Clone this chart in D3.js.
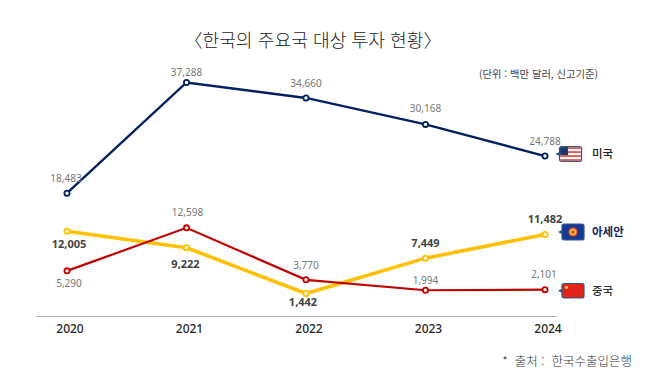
<!DOCTYPE html>
<html lang="ko">
<head>
<meta charset="utf-8">
<script src="https://cdn.jsdelivr.net/npm/d3@7"></script>
<style>
    html, body { margin: 0; padding: 0; background: #fff; }
    svg { display: block; }
    .value { font-family: "Noto Sans", sans-serif; font-size: 10px; fill: #777; text-anchor: middle; dominant-baseline: central; }
    .value.strong { font-size: 11px; font-weight: 700; fill: #444; }
    .year text { font-family: "Noto Sans", sans-serif; font-size: 12px; font-weight: 500; fill: #262626; }
    .kr { font-family: "Noto Sans CJK KR", sans-serif; }
</style>
</head>
<body>
<div id="chart"></div>
<script>
const years = ['2020', '2021', '2022', '2023', '2024'];
const usa = [18483, 37288, 34660, 30168, 24788];
const asean = [12005, 9222, 1442, 7449, 11482];
const china = [5290, 12598, 3770, 1994, 2101];

const width = 670, height = 378;

const svg = d3.select('#chart')
    .append('svg')
    .attr('width', width)
    .attr('height', height);

const x = d3.scalePoint().domain(years).range([67, 545]);
const y = d3.scaleLinear().domain([0, 40000]).range([302, 66.5]);

// label offsets from the point, [dx, dy], one per year
const series = [
    { name: 'asean', values: asean, color: '#ffc000', stroke: 3.6, strong: true,
        offsets: [[2, 12.5], [-1, 16], [-3, 7.5], [0, -15.5], [0, -16]] },
    { name: 'china', values: china, color: '#c00000', stroke: 2.2, strong: false,
        offsets: [[2, 12], [1, -15.5], [0, -15], [0, -10.5], [-1, -15.5]] },
    { name: 'usa', values: usa, color: '#002060', stroke: 2.4, strong: false,
        offsets: [[-1, -15], [0, -10.5], [0, -15], [0, -16], [0, -15]] }
];

// x axis, years sit a little right of their points
const axis = svg.append('g')
    .attr('class', 'year')
    .attr('transform', 'translate(2.5,317)')
    .call(d3.axisBottom(x).tickSize(0).tickPadding(7).tickFormat(d => d));
axis.select('.domain').remove();

svg.append('line')
    .attr('x1', 36).attr('x2', 557)
    .attr('y1', 316.5).attr('y2', 316.5)
    .attr('stroke', '#b0b0b0')
    .attr('stroke-width', 1);

const line = d3.line()
    .x((d, i) => x(years[i]))
    .y(d => y(d));

series.forEach(s => {
    const g = svg.append('g').attr('class', s.name);

    g.append('path')
        .datum(s.values)
        .attr('fill', 'none')
        .attr('stroke', s.color)
        .attr('stroke-width', s.stroke)
        .attr('d', line);

    g.selectAll('circle')
        .data(s.values)
        .join('circle')
        .attr('cx', (d, i) => x(years[i]))
        .attr('cy', d => y(d))
        .attr('r', 2.6)
        .attr('fill', '#fff')
        .attr('stroke', s.color)
        .attr('stroke-width', 1.8);

    g.selectAll('text')
        .data(s.values)
        .join('text')
        .attr('class', s.strong ? 'value strong' : 'value')
        .attr('x', (d, i) => x(years[i]) + s.offsets[i][0])
        .attr('y', (d, i) => y(d) + s.offsets[i][1])
        .text(d => d3.format(',')(d));
});

// title and notes
svg.append('text')
    .attr('class', 'kr')
    .attr('x', 313).attr('y', 47)
    .attr('text-anchor', 'middle')
    .attr('font-size', 18.2)
    .attr('font-weight', 300)
    .attr('fill', '#222')
    .text('〈한국의 주요국 대상 투자 현황〉');

svg.append('text')
    .attr('class', 'kr')
    .attr('x', 598).attr('y', 78)
    .attr('text-anchor', 'end')
    .attr('font-size', 10.3)
    .attr('fill', '#444')
    .text('(단위 : 백만 달러, 신고기준)');

svg.append('text')
    .attr('class', 'kr')
    .attr('x', 632).attr('y', 366)
    .attr('text-anchor', 'end')
    .attr('font-size', 12.5)
    .attr('font-weight', 300)
    .attr('fill', '#333')
    .attr('xml:space', 'preserve')
    .text('*  출처 :  한국수출입은행');

// flag badge with the small pointer on its left side
function badge(bx, by, w, h, fill) {
    const g = svg.append('g').attr('transform', `translate(${bx},${by})`);
    g.append('path')
        .attr('d', `M-4,${h / 2}L0,${h / 2 - 2}V${h / 2 + 2}Z`)
        .attr('fill', '#1f4e8c');
    g.append('rect')
        .attr('width', w).attr('height', h).attr('rx', 2)
        .attr('fill', fill)
        .attr('stroke', '#2a5a94')
        .attr('stroke-width', 1.2);
    return g;
}

const usFlag = badge(559.5, 146.5, 22, 15, '#fff');
d3.range(0, 7, 2).forEach(i => {
    usFlag.append('rect')
        .attr('x', 0.6).attr('y', 0.6 + i * 2)
        .attr('width', 20.8).attr('height', 2)
        .attr('fill', '#d9605c');
});
usFlag.append('rect')
    .attr('x', 0.6).attr('y', 0.6)
    .attr('width', 8).attr('height', 8)
    .attr('fill', '#1d3a70');

const aseanFlag = badge(562, 224, 22, 16, '#173a8e');
aseanFlag.append('circle').attr('cx', 11).attr('cy', 8).attr('r', 4.6).attr('fill', '#e8503a');
aseanFlag.append('circle').attr('cx', 11).attr('cy', 8).attr('r', 3.2).attr('fill', '#f2b632');
aseanFlag.append('circle').attr('cx', 11).attr('cy', 8).attr('r', 1.6).attr('fill', '#d8402e');

const chinaFlag = badge(562, 283.5, 22, 14.5, '#e2231a');
chinaFlag.append('circle').attr('cx', 4.5).attr('cy', 4).attr('r', 1.6).attr('fill', '#ffd83a');

// series names
const names = [
    { text: '미국', y: 153, color: '#222', weight: 500 },
    { text: '아세안', y: 231, color: '#14265f', weight: 700 },
    { text: '중국', y: 290, color: '#333', weight: 500 }
];
svg.selectAll('text.name')
    .data(names)
    .join('text')
    .attr('class', 'name kr')
    .attr('x', 592)
    .attr('y', d => d.y)
    .attr('dominant-baseline', 'central')
    .attr('font-size', 11.5)
    .attr('font-weight', d => d.weight)
    .attr('fill', d => d.color)
    .text(d => d.text);
</script>
</body>
</html>
